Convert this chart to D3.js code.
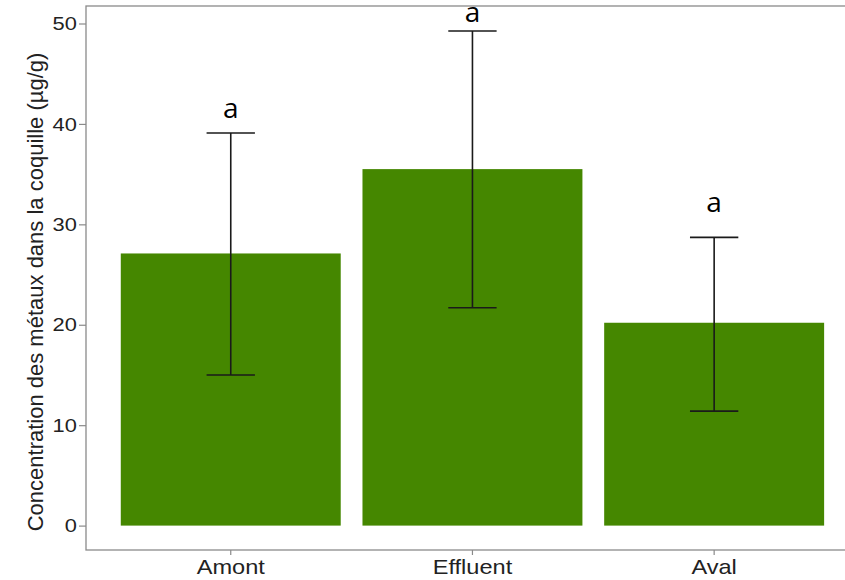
<!DOCTYPE html>
<html><head><meta charset="utf-8">
<script src="https://cdn.jsdelivr.net/npm/d3@7"></script>
<style>body{margin:0;background:#fff}</style>
</head><body><svg id="c" width="845" height="580"></svg>
<script>
const categories = ["Amont", "Effluent", "Aval"];
const means = [27.1, 35.5, 20.2];
const errLow = [15.0, 21.7, 11.4];
const errHigh = [39.1, 49.25, 28.7];
const letters = ["a", "a", "a"];
const letterY = [40.55, 50.15, 31.2];
const yTicks = [0, 10, 20, 30, 40, 50];
const yTitle = "Concentration des métaux dans la coquille (µg/g)";

const svg = d3.select("#c");
const x = d3.scaleBand().domain(categories).range([109.9, 835]).paddingInner(0.09).paddingOuter(0.045);
const y = d3.scaleLinear().domain([0, 50]).range([525.6, 23.5]);
const pL = 86, pT = 6, pB = 550, pR = 859;
const stretch = "scale(1.15,1)";

// panel border
svg.append("rect").attr("x", pL).attr("y", pT).attr("width", pR - pL).attr("height", pB - pT)
  .attr("fill", "none").attr("stroke", "#8a8a8a").attr("stroke-width", 1.3);

// bars
svg.selectAll("rect.bar").data(categories).join("rect").attr("class", "bar")
  .attr("x", d => x(d)).attr("width", x.bandwidth())
  .attr("y", (d, i) => y(means[i])).attr("height", (d, i) => y(0) - y(means[i]))
  .attr("fill", "#458700");

// error bars
const capW = x.step() * 0.2;
const cx = d => x(d) + x.bandwidth() / 2;
const eb = svg.selectAll("g.eb").data(categories).join("g").attr("class", "eb")
  .attr("stroke", "#1a1a1a").attr("stroke-width", 1.6);
eb.append("line").attr("x1", cx).attr("x2", cx)
  .attr("y1", (d, i) => y(errLow[i])).attr("y2", (d, i) => y(errHigh[i]));
eb.append("line").attr("x1", d => cx(d) - capW / 2).attr("x2", d => cx(d) + capW / 2)
  .attr("y1", (d, i) => y(errLow[i])).attr("y2", (d, i) => y(errLow[i]));
eb.append("line").attr("x1", d => cx(d) - capW / 2).attr("x2", d => cx(d) + capW / 2)
  .attr("y1", (d, i) => y(errHigh[i])).attr("y2", (d, i) => y(errHigh[i]));

// letters
svg.selectAll("text.lt").data(categories).join("text").attr("class", "lt")
  .attr("x", cx).attr("y", (d, i) => y(letterY[i]))
  .attr("text-anchor", "middle").attr("font-family", "'Open Sans', sans-serif").attr("font-size", 28)
  .attr("fill", "#000").text((d, i) => letters[i]);

// y axis
const ya = svg.append("g").attr("transform", `translate(${pL},0)`)
  .call(d3.axisLeft(y).tickValues(yTicks).tickSize(7).tickPadding(1));
ya.select(".domain").remove();
ya.selectAll(".tick line").attr("stroke", "#8a8a8a").attr("stroke-width", 1.2);
ya.selectAll(".tick text").attr("font-family", "'Liberation Sans', Arial, sans-serif").attr("font-size", 19)
  .attr("fill", "#222").attr("transform", stretch);

// x axis
const xa = svg.append("g").attr("transform", `translate(0,${pB})`)
  .call(d3.axisBottom(x).tickSize(5).tickPadding(4));
xa.select(".domain").remove();
xa.selectAll(".tick line").attr("stroke", "#8a8a8a").attr("stroke-width", 1.2);
xa.selectAll(".tick text").attr("font-family", "'Liberation Sans', Arial, sans-serif").attr("font-size", 20.5)
  .attr("fill", "#222").attr("transform", stretch);

// y title
svg.append("text").attr("transform", "translate(43,292) rotate(-90)")
  .attr("text-anchor", "middle").attr("font-family", "'Liberation Sans', Arial, sans-serif").attr("font-size", 22)
  .attr("fill", "#222").text(yTitle);
</script></body></html>
